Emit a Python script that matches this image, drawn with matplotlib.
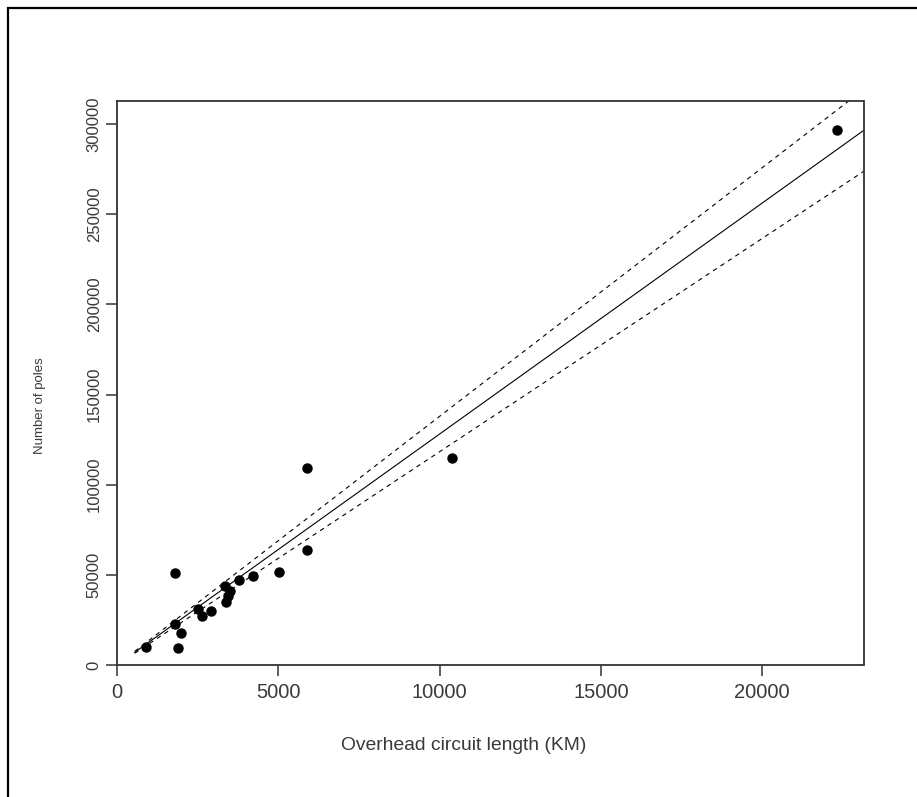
import math
import numpy as np
import matplotlib
matplotlib.use("Agg")
import matplotlib.pyplot as plt
from matplotlib.patches import Rectangle

# Overhead circuit length (km) and number of poles per network operator
circuit_km = [5899, 1789, 5031, 5899, 4207, 3791, 3348, 3503, 3432, 3379,
              2914, 2520, 2626, 1798, 1984, 1900, 899, 10376, 22329]
poles = [109400, 51190, 51740, 63780, 49530, 47140, 43980, 41040, 38270, 34770,
         30110, 30890, 27180, 22570, 17910, 9260, 10150, 114970, 296700]

x_ticks = [0, 5000, 10000, 15000, 20000]
y_ticks = [0, 50000, 100000, 150000, 200000, 250000, 300000]
x_limits = (0, 23140)
y_limits = (0, 312800)
fit_range = (550, 23300)


def t_quantile(p, df):
    """Quantile of Student's t distribution by integrating its density."""
    c = math.exp(math.lgamma((df + 1) / 2) - math.lgamma(df / 2)) / math.sqrt(df * math.pi)
    grid = np.linspace(0, 20, 200001)
    pdf = c * (1 + grid ** 2 / df) ** (-(df + 1) / 2)
    cdf = 0.5 + np.concatenate([[0], np.cumsum((pdf[1:] + pdf[:-1]) / 2 * np.diff(grid))])
    return float(np.interp(p, cdf, grid))


# Least-squares line through the origin with a 95% confidence band
x = np.asarray(circuit_km, dtype=float)
y = np.asarray(poles, dtype=float)
sxx = np.sum(x * x)
slope = np.sum(x * y) / sxx
dof = len(x) - 1
sigma = math.sqrt(np.sum((y - slope * x) ** 2) / dof)
half_width = t_quantile(0.975, dof) * sigma / math.sqrt(sxx)

xs = np.linspace(fit_range[0], fit_range[1], 300)
fit = slope * xs
upper = (slope + half_width) * xs
lower = (slope - half_width) * xs

plt.rcParams['font.family'] = ['Liberation Sans', 'DejaVu Sans']
text_col = '#3a3a3a'

fig = plt.figure(figsize=(9.17, 7.97), dpi=100)
ax = fig.add_axes([117 / 917, 1 - 665 / 797, 746.5 / 917, 564 / 797])

ax.plot(xs, fit, color='black', lw=0.8)
ax.plot(xs, upper, color='black', lw=0.8, dashes=(4, 4))
ax.plot(xs, lower, color='black', lw=0.8, dashes=(4, 4))
ax.plot(circuit_km, poles, 'o', color='black', ms=6.5, mec='black')

ax.set_xlim(*x_limits)
ax.set_ylim(*y_limits)
ax.set_xticks(x_ticks)
ax.set_yticks(y_ticks)
ax.set_xticklabels([str(v) for v in x_ticks])
ax.set_yticklabels([str(v) for v in y_ticks], rotation=90, va='center')

for side in ax.spines.values():
    side.set_linewidth(1.3)
    side.set_color('#333333')

ax.tick_params(axis='both', direction='out', length=8, width=1.1,
               color='#333333', labelcolor=text_col)
ax.tick_params(axis='x', labelsize=14.5, pad=5)
ax.tick_params(axis='y', labelsize=12, pad=3)

ax.set_xlabel('Overhead circuit length (KM)', fontsize=13.9, color=text_col, va='center')
ax.xaxis.set_label_coords((464 - 117) / 746.5, (665 - 746) / 564)
ax.set_ylabel('Number of poles', fontsize=9.5, color=text_col, va='center', ha='center')
ax.yaxis.set_label_coords((40 - 117) / 746.5, (665 - 406) / 564)

# outer frame of the page
fig.patches.append(Rectangle((7.5 / 917, -0.2), 1.0, 1.2 - 7.5 / 797,
                             transform=fig.transFigure, fill=False,
                             lw=1.6, edgecolor='black', clip_on=False))

fig.savefig('out.png', dpi=100)
